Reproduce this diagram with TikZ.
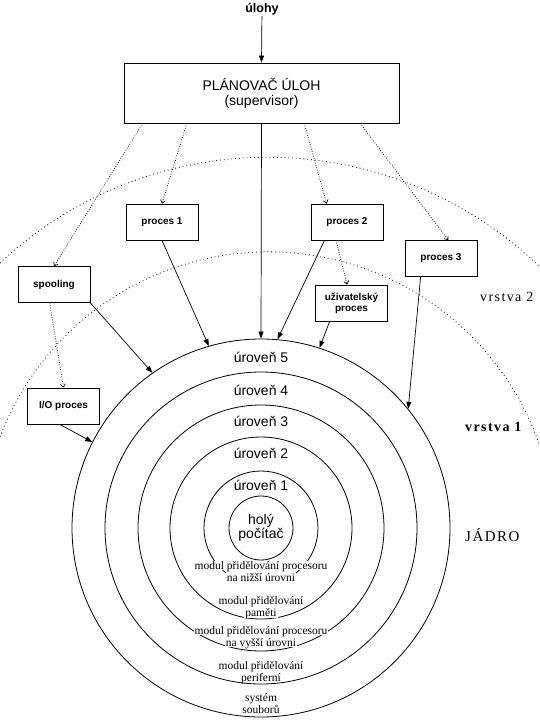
\documentclass[tikz,border=0pt]{standalone}
\usepackage{fontspec}
\setmainfont{Liberation Sans}
\newfontfamily\tnr{Liberation Serif}
\newfontfamily\tnrsp[LetterSpace=10]{Liberation Serif}
\usetikzlibrary{arrows.meta,calc}
\begin{document}
\begin{tikzpicture}[x=1pt,y=-1pt,
  box/.style={draw, fill=white, line width=0.8pt, minimum width=72pt, minimum height=36pt, inner sep=1pt,
    font=\fontsize{10}{11}\selectfont\bfseries, align=center},
  ring/.style={draw, circle, line width=0.8pt, inner sep=0pt},
  solidarr/.style={line width=0.7pt, -{Triangle[length=7pt,width=5pt]}},
  dotarr/.style={line width=0.7pt, dash pattern=on 0.8pt off 1.6pt, -{Straight Barb[length=3pt,width=5pt]}},
  layerarc/.style={line width=0.8pt, dash pattern=on 0.8pt off 3pt},
  lvl/.style={font=\fontsize{14}{15}\selectfont, inner sep=0pt, anchor=base},
  mod/.style={font=\tnr\fontsize{11.5}{10.5}\selectfont, fill=white, inner xsep=1pt, inner ysep=0pt,
    text height=8pt, text depth=1pt, anchor=base},
  side/.style={font=\tnrsp\fontsize{14}{15}\selectfont, inner sep=0pt, anchor=base west},
]
\useasboundingbox (0,0) rectangle (539,720);

% layer boundaries
\draw[layerarc] (0,263) arc[start angle=133.1, end angle=46.2, radius=392pt];
\draw[layerarc] (0,437) arc[start angle=159.2, end angle=19.2, radius=287pt];

% rings
\node[ring, minimum size=378pt] (ring5) at (261,528) {};
\node[ring, minimum size=312pt] (ring4) at (261,528) {};
\node[ring, minimum size=246pt] (ring3) at (261,528) {};
\node[ring, minimum size=182pt] (ring2) at (261,528) {};
\node[ring, minimum size=114pt] (ring1) at (261,528) {};
\node[ring, minimum size=64pt, font=\fontsize{14}{14}\selectfont, align=center] (core) at (261,528) {holý\\počítač};

\node[lvl] (l5) at (261,362) {úroveň 5};
\node[lvl] (l4) at (261,395) {úroveň 4};
\node[lvl] (l3) at (261,426) {úroveň 3};
\node[lvl] (l2) at (261,458) {úroveň 2};
\node[lvl] (l1) at (261,490) {úroveň 1};

% module labels
\node[mod] (m1a) at (261,569) {modul přidělování procesoru};
\node[mod, text depth=6pt] (m1b) at (261,581) {na nižší úrovni};
\node[mod] (m2a) at (261,604.5) {modul přidělování};
\node[mod] (m2b) at (261,616.5) {paměti};
\node[mod] (m3a) at (261,634) {modul přidělování procesoru};
\node[mod] (m3b) at (261,646) {na vyšší úrovni};
\node[mod] (m4a) at (261,669) {modul přidělování};
\node[mod] (m4b) at (261,681) {periferní};
\node[mod] (m5a) at (261,701) {systém};
\node[mod] (m5b) at (261,713) {souborů};

% side labels
\node[side] (v2) at (480,301) {vrstva 2};
\node[side, font=\tnrsp\bfseries\fontsize{14}{15}\selectfont] (v1) at (465,431) {vrstva 1};
\node[side, font=\tnrsp\fontsize{15}{16}\selectfont] (jadro) at (465,541.5) {JÁDRO};

% boxes
\node[font=\bfseries\fontsize{12.5}{14}\selectfont, inner sep=1pt] (ulohy) at (262,9) {úlohy};
\node[draw, fill=white, line width=0.8pt, minimum width=275pt, minimum height=60pt, inner sep=0pt,
  align=center, font=\fontsize{14}{15}\selectfont] (plan) at (261.5,93) {PLÁNOVAČ ÚLOH\\(supervisor)};
\node[box] (p1) at (162,222) {proces 1};
\node[box] (spool) at (54,284.5) {spooling};
\node[box] (p2) at (347,222) {proces 2};
\node[box] (p3) at (441,258.5) {proces 3};
\node[box, font=\fontsize{10}{11}\selectfont\bfseries] (user) at (351.5,303) {uživatelský\\proces};
\node[box] (io) at (63.5,406) {I/O proces};

% connectors
\draw[solidarr] (ulohy) -- (plan.north);
\draw[solidarr] (plan.south) -- (ring5.90);

\draw[dotarr] ($(plan.south west)!0.069!(plan.south east)$) -- (spool.north);
\draw[dotarr] ($(plan.south west)!0.229!(plan.south east)$) -- (p1.north);
\draw[dotarr] ($(plan.south west)!0.655!(plan.south east)$) -- ($(p2.north west)!0.22!(p2.north east)$);
\draw[dotarr] ($(plan.south west)!0.858!(plan.south east)$) -- ($(p3.north west)!0.6!(p3.north east)$);
\draw[dotarr] ($(p2.south west)!0.35!(p2.south east)$) -- ($(user.north west)!0.44!(user.north east)$);
\draw[dotarr] ($(spool.south west)!0.44!(spool.south east)$) -- (io.north);

\draw[solidarr] (p1.south) -- (ring5.106);
\draw[solidarr] (spool.south east) -- (ring5.125);
\draw[solidarr] ($(p2.south west)!0.19!(p2.south east)$) -- (ring5.85);
\draw[solidarr] ($(user.south west)!0.2!(user.south east)$) -- (ring5.72);
\draw[solidarr] ($(p3.south west)!0.22!(p3.south east)$) -- (ring5.39);
\draw[solidarr] ($(io.south west)!0.45!(io.south east)$) -- (ring5.153);
\end{tikzpicture}
\end{document}
